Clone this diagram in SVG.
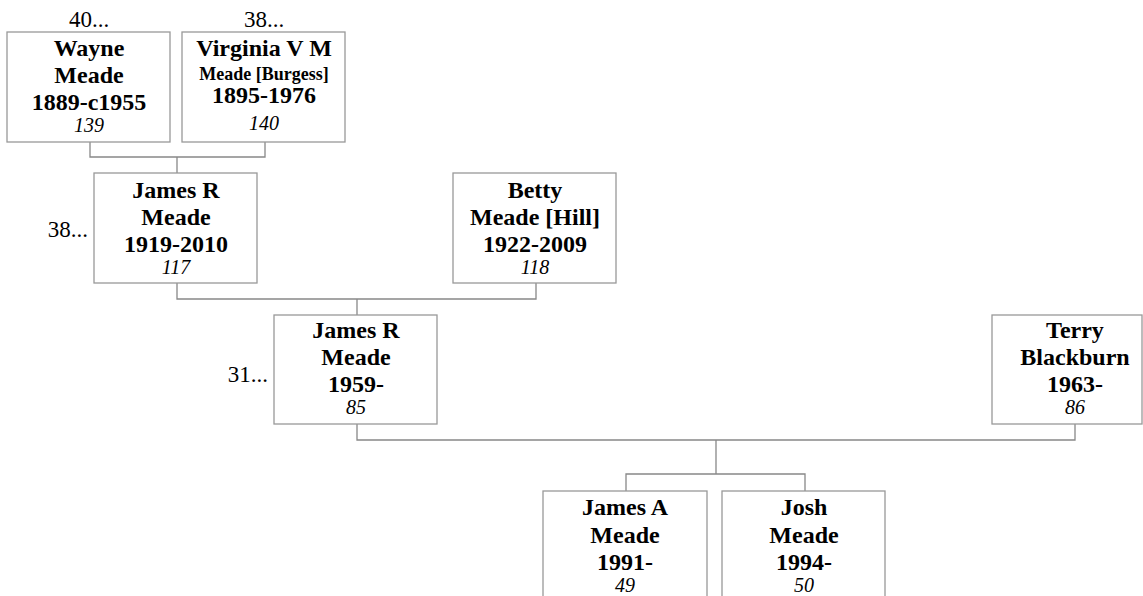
<svg xmlns="http://www.w3.org/2000/svg" width="1143" height="596" viewBox="0 0 1143 596">
<style>
.box{fill:#fff;stroke:#999;stroke-width:1.3}
.ln{fill:none;stroke:#888;stroke-width:1.3}
text{font-family:"Liberation Serif","Times New Roman",serif;fill:#000}
.b{font-weight:bold;font-size:24px;text-anchor:middle}
.s{font-weight:bold;font-size:18px;text-anchor:middle}
.i{font-style:italic;font-size:20px;text-anchor:middle}
.g{font-size:23px}
</style>
<rect width="1143" height="596" fill="#fff"/>
<g id="connectors">
<polyline class="ln" points="90,142 90,157 265,157 265,142"/>
<line class="ln" x1="177" y1="157" x2="177" y2="173"/>
<polyline class="ln" points="177,283 177,299 536,299 536,283"/>
<line class="ln" x1="357" y1="299" x2="357" y2="315"/>
<polyline class="ln" points="357,424 357,440 1075,440 1075,424"/>
<line class="ln" x1="716" y1="440" x2="716" y2="474"/>
<polyline class="ln" points="626,491 626,474 805,474 805,491"/>
</g>
<g id="n139">
<rect class="box" x="7" y="32" width="163" height="110"/>
<text class="g" x="89" y="27" text-anchor="middle">40...</text>
<text class="b" x="89" y="56">Wayne</text>
<text class="b" x="89" y="83">Meade</text>
<text class="b" x="89" y="110">1889-c1955</text>
<text class="i" x="89" y="132">139</text>
</g>
<g id="n140">
<rect class="box" x="182" y="32" width="163" height="110"/>
<text class="g" x="264" y="27" text-anchor="middle">38...</text>
<text class="b" x="264" y="56">Virginia V M</text>
<text class="s" x="264" y="80">Meade [Burgess]</text>
<text class="b" x="264" y="103">1895-1976</text>
<text class="i" x="264" y="130">140</text>
</g>
<g id="n117">
<rect class="box" x="94" y="173" width="163" height="110"/>
<text class="g" x="88" y="237" text-anchor="end">38...</text>
<text class="b" x="176" y="198">James R</text>
<text class="b" x="176" y="225">Meade</text>
<text class="b" x="176" y="252">1919-2010</text>
<text class="i" x="176" y="274">117</text>
</g>
<g id="n118">
<rect class="box" x="453" y="173" width="163" height="110"/>
<text class="b" x="535" y="198">Betty</text>
<text class="b" x="535" y="225">Meade [Hill]</text>
<text class="b" x="535" y="252">1922-2009</text>
<text class="i" x="535" y="274">118</text>
</g>
<g id="n85">
<rect class="box" x="274" y="315" width="163" height="109"/>
<text class="g" x="268" y="382" text-anchor="end">31...</text>
<text class="b" x="356" y="338">James R</text>
<text class="b" x="356" y="365">Meade</text>
<text class="b" x="356" y="392">1959-</text>
<text class="i" x="356" y="414">85</text>
</g>
<g id="n86">
<rect class="box" x="992" y="315" width="150" height="109"/>
<text class="b" x="1075" y="338">Terry</text>
<text class="b" x="1075" y="365">Blackburn</text>
<text class="b" x="1075" y="392">1963-</text>
<text class="i" x="1075" y="414">86</text>
</g>
<g id="n49">
<rect class="box" x="543" y="491" width="164" height="120"/>
<text class="b" x="625" y="515">James A</text>
<text class="b" x="625" y="543">Meade</text>
<text class="b" x="625" y="570">1991-</text>
<text class="i" x="625" y="592">49</text>
</g>
<g id="n50">
<rect class="box" x="722" y="491" width="163" height="120"/>
<text class="b" x="804" y="515">Josh</text>
<text class="b" x="804" y="543">Meade</text>
<text class="b" x="804" y="570">1994-</text>
<text class="i" x="804" y="592">50</text>
</g>
</svg>
